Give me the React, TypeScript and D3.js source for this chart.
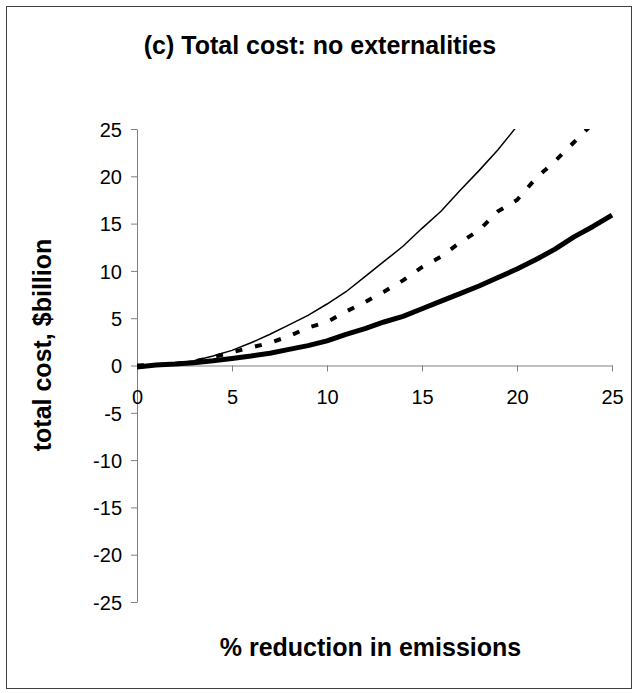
import React, { useEffect, useRef } from 'react';
import * as d3 from 'd3';

// % reduction in emissions
const reduction = [0, 1, 2, 3, 4, 5, 6, 7, 8, 9, 10, 11, 12, 13, 14, 15, 16, 17, 18, 19, 20, 21, 22, 23, 24, 25];

// thin solid line
const thinCost = [0, 0.05, 0.2, 0.5, 1.0, 1.6, 2.4, 3.3, 4.3, 5.3, 6.5, 7.8, 9.4, 11.0, 12.6, 14.5, 16.3, 18.5, 20.6, 22.8, 25.3];
// dashed line
const dashCost = [0, 0.05, 0.15, 0.4, 0.9, 1.4, 1.9, 2.4, 3.1, 4.0, 4.6, 5.7, 6.7, 7.8, 9.0, 10.4, 11.5, 13.0, 14.3, 16.3, 17.5, 19.8, 21.6, 23.6, 25.6];
// thick solid line
const thickCost = [-0.15, 0.05, 0.15, 0.3, 0.5, 0.75, 1.0, 1.3, 1.7, 2.1, 2.6, 3.3, 3.9, 4.6, 5.2, 6.0, 6.8, 7.6, 8.4, 9.3, 10.2, 11.2, 12.3, 13.6, 14.7, 15.9];

const xTicks = [0, 5, 10, 15, 20, 25];
const yTicks = [-25, -20, -15, -10, -5, 0, 5, 10, 15, 20, 25];

const title = '(c) Total cost: no externalities';
const xTitle = '% reduction in emissions';
const yTitle = 'total cost, $billion';

const W = 638;
const H = 693;

const App = () => {
  const ref = useRef<SVGSVGElement>(null);

  useEffect(() => {
    drawChart();
  }, []);

  const drawChart = () => {
    const svg = d3.select(ref.current);
    svg.selectAll('*').remove();

    const font = 'Liberation Sans, Arial, sans-serif';

    // outer frame
    svg.append('rect')
      .attr('x', 6.5).attr('y', 6.5)
      .attr('width', 625).attr('height', 682)
      .attr('fill', 'white')
      .attr('stroke', '#404040')
      .attr('stroke-width', 1);

    const x = d3.scaleLinear().domain([0, 25]).range([137, 612]);
    const y = d3.scaleLinear().domain([-25, 25]).range([602, 129]);

    svg.append('defs').append('clipPath').attr('id', 'plot')
      .append('rect')
      .attr('x', x(0)).attr('y', y(25))
      .attr('width', x(25) - x(0) + 4).attr('height', y(-25) - y(25));

    // y axis
    const yAxis = svg.append('g')
      .attr('transform', `translate(${x(0)},0)`)
      .call(d3.axisLeft(y).tickValues(yTicks).tickSize(6).tickSizeOuter(0).tickFormat(d3.format('d')));
    yAxis.select('.domain').attr('stroke', '#808080');
    yAxis.selectAll('.tick line').attr('stroke', '#808080');
    yAxis.selectAll('.tick text')
      .attr('x', -15)
      .attr('dy', '0.36em')
      .style('font-family', font)
      .style('font-size', '20px')
      .attr('fill', '#000')
      .text((d: any) => (d < 0 ? '-' + Math.abs(d) : String(d)));

    // x axis
    const xAxis = svg.append('g')
      .attr('transform', `translate(0,${y(0)})`)
      .call(d3.axisBottom(x).tickValues(xTicks).tickSize(6).tickSizeOuter(0));
    xAxis.select('.domain').attr('stroke', '#808080');
    xAxis.selectAll('.tick line').attr('stroke', '#808080');
    xAxis.selectAll('.tick text')
      .attr('y', 38)
      .attr('dy', 0)
      .style('font-family', font)
      .style('font-size', '20px')
      .attr('fill', '#000');
    svg.selectAll('.domain').attr('fill', 'none');

    const g = svg.append('g').attr('clip-path', 'url(#plot)');

    const line = d3.line<number>()
      .x((_, i) => x(reduction[i]))
      .y(d => y(d));

    g.append('path')
      .attr('d', line(thinCost))
      .attr('fill', 'none')
      .attr('stroke', '#000')
      .attr('stroke-width', 1.5);

    g.append('path')
      .attr('d', line(dashCost))
      .attr('fill', 'none')
      .attr('stroke', '#000')
      .attr('stroke-width', 4)
      .attr('stroke-dasharray', '7,13');

    g.append('path')
      .attr('d', line(thickCost))
      .attr('fill', 'none')
      .attr('stroke', '#000')
      .attr('stroke-width', 5)
      .attr('stroke-linejoin', 'round');

    // titles
    svg.append('text')
      .attr('x', 320).attr('y', 54)
      .attr('text-anchor', 'middle')
      .style('font-family', font)
      .style('font-size', '25px')
      .style('font-weight', 'bold')
      .text(title);

    svg.append('text')
      .attr('x', (x(0) + x(25)) / 2 - 4).attr('y', 656)
      .attr('text-anchor', 'middle')
      .style('font-family', font)
      .style('font-size', '25px')
      .style('font-weight', 'bold')
      .text(xTitle);

    svg.append('text')
      .attr('transform', `translate(51,345) rotate(-90)`)
      .attr('text-anchor', 'middle')
      .style('font-family', font)
      .style('font-size', '25px')
      .style('font-weight', 'bold')
      .text(yTitle);
  };

  return (
    <svg ref={ref} width={W} height={H} style={{ position: 'absolute', left: 0, top: 0 }} />
  );
};

export default App;
